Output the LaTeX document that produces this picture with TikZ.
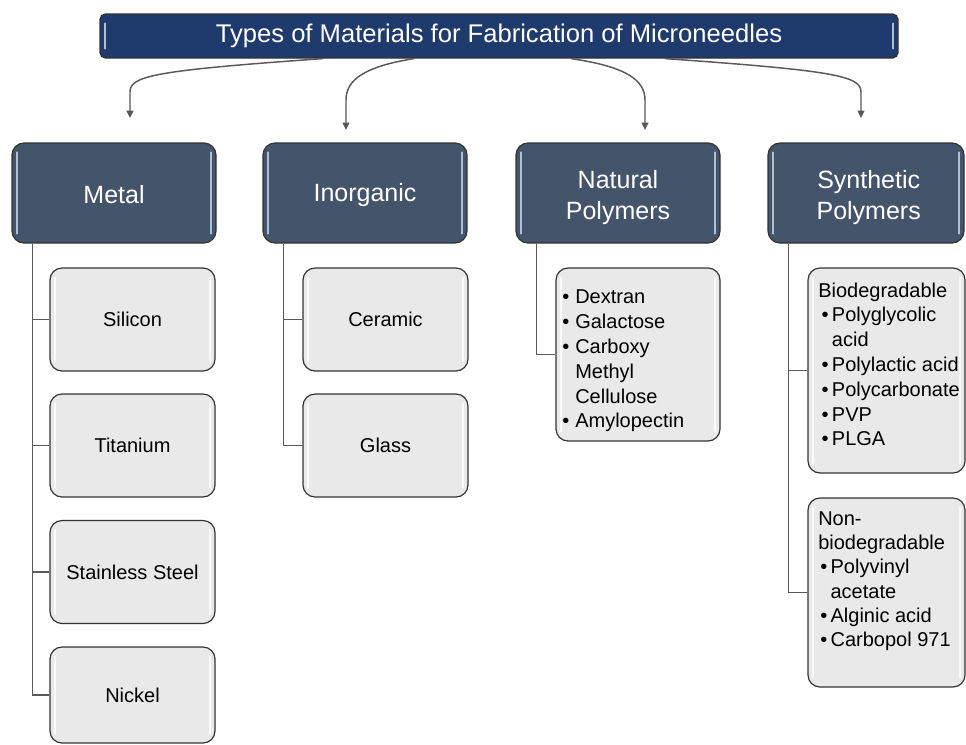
\documentclass[tikz,border=0pt]{standalone}
\usepackage{fontspec}
\setmainfont{Liberation Sans}
\usetikzlibrary{arrows.meta,calc}
\definecolor{titlebg}{HTML}{1F3A6C}
\definecolor{headbg}{HTML}{44546A}
\definecolor{childbg}{HTML}{E9E9E9}
\definecolor{edgec}{HTML}{333333}
\definecolor{connc}{HTML}{595959}
\definecolor{hlc}{HTML}{AFBFD4}
\tikzset{
  hlpic/.style={path picture={
      \draw[#1,line width=1.5pt,line cap=round] ([xshift=3.5pt,yshift=-7pt]path picture bounding box.north west) -- ([xshift=3.5pt,yshift=7pt]path picture bounding box.south west);
      \draw[#1,line width=1.5pt,line cap=round] ([xshift=-3.5pt,yshift=-7pt]path picture bounding box.north east) -- ([xshift=-3.5pt,yshift=7pt]path picture bounding box.south east);}},
  titlebox/.style={draw=edgec, line width=0.9pt, fill=titlebg, rounded corners=4pt,
    minimum width=598.5pt, minimum height=33pt, inner sep=0pt, text=white,
    font=\fontsize{19.2}{22}\selectfont, hlpic=hlc},
  headbox/.style={draw=edgec, line width=0.9pt, fill=headbg, rounded corners=9pt,
    minimum width=153pt, minimum height=75pt, inner sep=0pt, hlpic=hlc},
  headtext/.style={inner sep=0pt, text=white, align=center,
    font=\fontsize{18.75}{23.2}\selectfont},
  childbox/.style={draw=edgec, line width=0.9pt, fill=childbg, rounded corners=9pt,
    minimum width=123.75pt, minimum height=77.25pt, inner sep=0pt,
    font=\fontsize{15}{18.6}\selectfont, hlpic={white,opacity=0.8}},
  conn/.style={draw=connc, line width=1.1pt},
  arr/.style={conn, -{Triangle[length=5.5pt,width=5pt]}},
  listtext/.style={inner sep=0pt, anchor=west, font=\fontsize{15}{18.6}\selectfont, align=left}
}
\begin{document}
\begin{tikzpicture}[x=0.75pt,y=-0.75pt]
\useasboundingbox (0,0) rectangle (966,744);
\fill[white] (0,0) rectangle (966,744);
\clip (0,0) rectangle (966,744);

% title
\node[titlebox] (title) at (499,36) {Types of Materials for Fabrication of Microneedles};

% headers
\node[headbox] (metal) at (114,193) {};
\node[headbox] (inorganic) at (365,193) {};
\node[headbox] (natural) at (618,193) {};
\node[headbox, minimum width=147pt] (synthetic) at (866,193) {};
\node[headtext] (metalT) at ([yshift=-1.5pt]metal.center) {Metal};
\node[headtext] (inorganicT) at ([yshift=-1.5pt]inorganic.center) {Inorganic};
\node[headtext] (naturalT) at ([yshift=-3.5pt]natural.center) {Natural\\Polymers};
\node[headtext] (syntheticT) at ([xshift=2pt,yshift=-3.5pt]synthetic.center) {Synthetic\\Polymers};

% arrows
\coordinate (s1) at ([xshift=-132pt]title.south);
\coordinate (s2) at ([xshift=-63.75pt]title.south);
\coordinate (s3) at ([xshift=54pt]title.south);
\coordinate (s4) at ([xshift=124.5pt]title.south);
\coordinate (b1) at (130,92);  \coordinate (a1) at (130,118);
\coordinate (b2) at (346,100); \coordinate (a2) at (346,130);
\coordinate (b3) at (645,100); \coordinate (a3) at (645,130);
\coordinate (b4) at (861,92);  \coordinate (a4) at (861,118);
\draw[arr] (s1) .. controls +(-170,12) and +(0,-16) .. (b1) -- (a1);
\draw[arr] (s2) .. controls +(-50,8) and +(0,-20) .. (b2) -- (a2);
\draw[arr] (s3) .. controls +(55,8) and +(0,-20) .. (b3) -- (a3);
\draw[arr] (s4) .. controls +(170,12) and +(0,-16) .. (b4) -- (a4);

% metal children
\node[childbox] (silicon) at (132.5,319.5) {Silicon};
\node[childbox] (titanium) at (132.5,445.5) {Titanium};
\node[childbox] (stainless) at (132.5,572) {Stainless Steel};
\node[childbox, minimum height=72pt] (nickel) at (132.5,695) {Nickel};

% inorganic children
\node[childbox] (ceramic) at (385.5,319.5) {Ceramic};
\node[childbox] (glass) at (385.5,445.5) {Glass};

% natural polymers list
\node[childbox, minimum width=123pt, minimum height=129.75pt] (natbox) at (638,354.5) {};
\node[listtext] (nattext) at (562,361) {\begin{tabular}{@{}l@{\hspace{4.5pt}}l@{}}
•&Dextran\\
•&Galactose\\
•&Carboxy\\
&Methyl\\
&Cellulose\\
•&Amylopectin
\end{tabular}};

% synthetic polymers lists
\node[childbox, minimum width=117.75pt, minimum height=153.75pt] (biobox) at (886.5,370.5) {};
\node[listtext] (biotext) at (818,366.5) {\begin{tabular}{@{\hspace{2.5pt}}l@{\hspace{2.5pt}}l@{}}
\multicolumn{2}{@{}l@{}}{Biodegradable}\\
•&Polyglycolic\\
&acid\\
•&Polylactic acid\\
•&Polycarbonate\\
•&PVP\\
•&PLGA
\end{tabular}};

\node[childbox, minimum width=117.75pt, minimum height=141.75pt] (nonbiobox) at (886.5,592.5) {};
\node[listtext, font=\fontsize{15}{18.2}\selectfont] (nonbiotext) at (818,581) {\begin{tabular}{@{\hspace{1.5pt}}l@{\hspace{2.5pt}}l@{}}
\multicolumn{2}{@{}l@{}}{Non-}\\
\multicolumn{2}{@{}l@{}}{biodegradable}\\
•&Polyvinyl\\
&acetate\\
•&Alginic acid\\
•&Carbopol 971
\end{tabular}};

% spines and ticks
\coordinate (m0) at ($(metal.south west)+(21,0)$);
\draw[conn] (m0) |- (nickel.west);
\foreach \c in {silicon,titanium,stainless} \draw[conn] (m0 |- \c.west) -- (\c.west);

\coordinate (i0) at ($(inorganic.south west)+(21,0)$);
\draw[conn] (i0) |- (glass.west);
\draw[conn] (i0 |- ceramic.west) -- (ceramic.west);

\coordinate (n0) at ($(natural.south west)+(21,0)$);
\draw[conn] (n0) |- (natbox.west);

\coordinate (y0) at ($(synthetic.south west)+(21,0)$);
\draw[conn] (y0) |- (nonbiobox.west);
\draw[conn] (y0 |- biobox.west) -- (biobox.west);
\end{tikzpicture}
\end{document}
